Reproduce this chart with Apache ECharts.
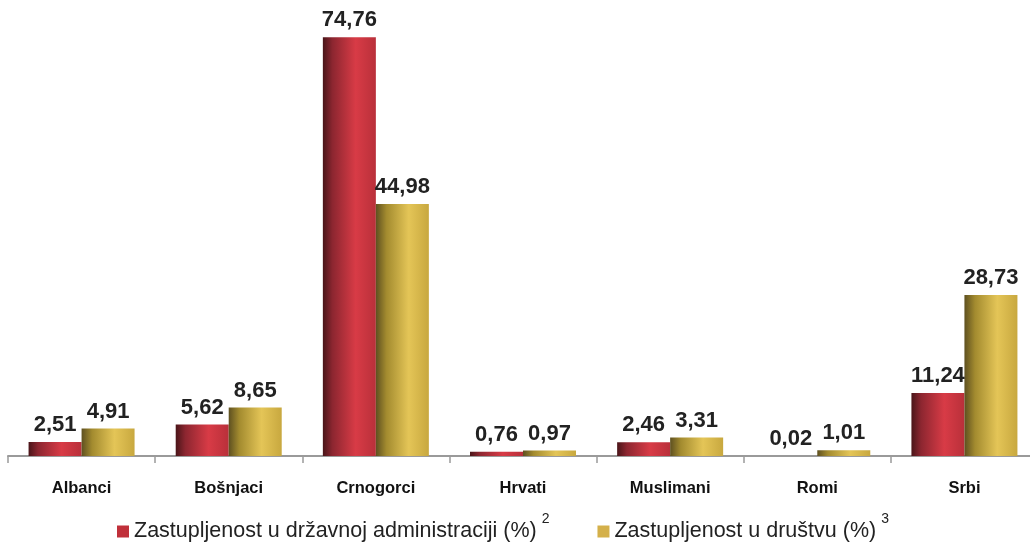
<!DOCTYPE html>
<html><head><meta charset="utf-8">
<script src="https://cdn.jsdelivr.net/npm/echarts@6/dist/echarts.min.js"></script>
<style>html,body{margin:0;padding:0;background:#fff}#c{width:1030px;height:544px}</style>
</head><body><div id="c"></div>
<script>
const categories = ['Albanci','Bošnjaci','Crnogorci','Hrvati','Muslimani','Romi','Srbi'];
const seriesNames = ['Zastupljenost u državnoj administraciji (%)','Zastupljenost u društvu (%)'];
const legendSup = ['2','3'];
const adminValues = [2.51,5.62,74.76,0.76,2.46,0.02,11.24];
const societyValues = [4.91,8.65,44.98,0.97,3.31,1.01,28.73];

const redGrad = new echarts.graphic.LinearGradient(0,0,1,0,[
 {offset:0,color:'#4a1519'},{offset:0.18,color:'#8c2630'},{offset:0.62,color:'#d83b46'},{offset:1,color:'#b9303a'}]);
const goldGrad = new echarts.graphic.LinearGradient(0,0,1,0,[
 {offset:0,color:'#5e5020'},{offset:0.2,color:'#a38b2f'},{offset:0.62,color:'#e4c557'},{offset:1,color:'#c8a83f'}]);

const chart = echarts.init(document.getElementById('c'));
const lbl = {show:true,position:'top',distance:6,color:'#222',fontFamily:'Liberation Sans',fontWeight:'bold',fontSize:22,
  formatter:p=>p.value.toFixed(2).replace('.',',')};
const legFont = 'Liberation Sans';
chart.setOption({
  animation:false,
  grid:{left:8,width:1030,top:8,bottom:88,containLabel:false,outerBoundsMode:'none'},
  legend:{top:507,left:112,itemWidth:12,itemHeight:12,itemGap:48,icon:'rect',
    data:[{name:seriesNames[0],itemStyle:{color:'#c0303a'}},{name:seriesNames[1],itemStyle:{color:'#d4b04a'}}],
    formatter:n=>n+'{sup|'+legendSup[seriesNames.indexOf(n)]+'}',
    textStyle:{fontFamily:legFont,fontSize:21.5,color:'#222',
      rich:{sup:{fontSize:14,verticalAlign:'bottom',padding:[0,0,25,5],fontFamily:legFont,color:'#222'}}}},
  xAxis:{type:'category',data:categories,
    axisLine:{lineStyle:{color:'#9a9a9a',width:2}},
    axisTick:{show:true,length:7,lineStyle:{color:'#9a9a9a',width:1.5}},
    axisLabel:{margin:24,color:'#111',fontFamily:'Liberation Sans',fontWeight:'bold',fontSize:16.5}},
  yAxis:{type:'value',min:0,max:80,show:false,splitLine:{show:false}},
  series:[
    {name:seriesNames[0],type:'bar',data:adminValues,barWidth:53,barGap:'0%',itemStyle:{color:redGrad},label:lbl},
    {name:seriesNames[1],type:'bar',data:societyValues,barWidth:53,barGap:'0%',itemStyle:{color:goldGrad},label:lbl}
  ]
});
</script></body></html>
